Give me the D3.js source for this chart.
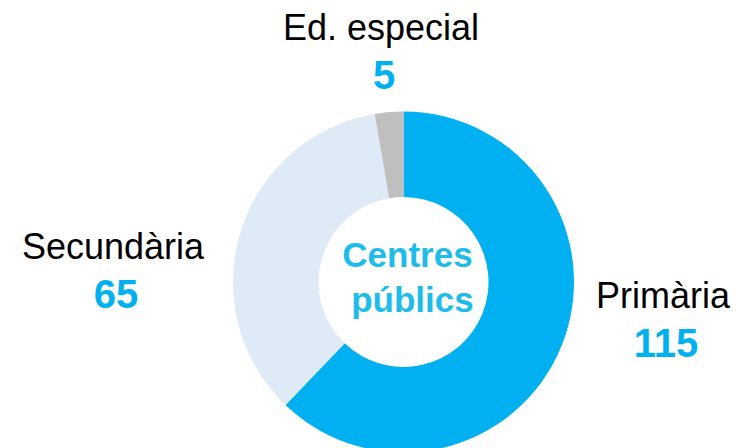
<!DOCTYPE html>
<html>
<head>
<meta charset="utf-8">
<script src="https://cdn.jsdelivr.net/npm/d3@7"></script>
<style>
  body { margin: 0; background: #fff; }
  text { font-family: "Liberation Sans", Arial, sans-serif; }
</style>
</head>
<body>
<script>
let categories = ['Primària', 'Secundària', 'Ed. especial'];
let values = [115, 65, 5];
let colors = ['#00B0F0', '#DEEAF6', '#BFBFBF'];
let centerLines = ['Centres', 'públics'];

let width = 736;
let height = 448;
let cx = 403.5;
let cy = 282;

let svg = d3.select('body').append('svg')
  .attr('width', width)
  .attr('height', height);

let container = svg.append('g')
  .attr('transform', 'translate(' + cx + ',' + cy + ')');

let pie = d3.pie()
  .value((d) => d)
  .sort(null);

let arc = d3.arc()
  .innerRadius(85)
  .outerRadius(170.5);

container.selectAll('path')
  .data(pie(values))
  .enter().append('path')
  .attr('d', (d) => arc(d))
  .attr('fill', (d, i) => colors[i]);

// labels outside the ring (name + value)
let labelPos = [
  {x: 663, y: 308},
  {x: 113, y: 259},
  {x: 381, y: 40}
];

let labels = svg.append('g');
categories.forEach(function(c, i) {
  labels.append('text')
    .attr('x', labelPos[i].x)
    .attr('y', labelPos[i].y)
    .attr('text-anchor', 'middle')
    .attr('font-size', 36)
    .attr('fill', '#000')
    .text(c);
  labels.append('text')
    .attr('x', labelPos[i].x + 3)
    .attr('y', labelPos[i].y + 49)
    .attr('text-anchor', 'middle')
    .attr('font-size', 40)
    .attr('font-weight', 'bold')
    .attr('fill', '#00B0F0')
    .text(values[i]);
});

// centre title
container.selectAll('text.center')
  .data(centerLines)
  .enter().append('text')
  .attr('class', 'center')
  .attr('x', (d, i) => i == 0 ? 4 : 9)
  .attr('y', (d, i) => -15 + i * 45)
  .attr('text-anchor', 'middle')
  .attr('font-size', 35)
  .attr('font-weight', 'bold')
  .attr('fill', '#1DBCEA')
  .text((d) => d);
</script>
</body>
</html>
